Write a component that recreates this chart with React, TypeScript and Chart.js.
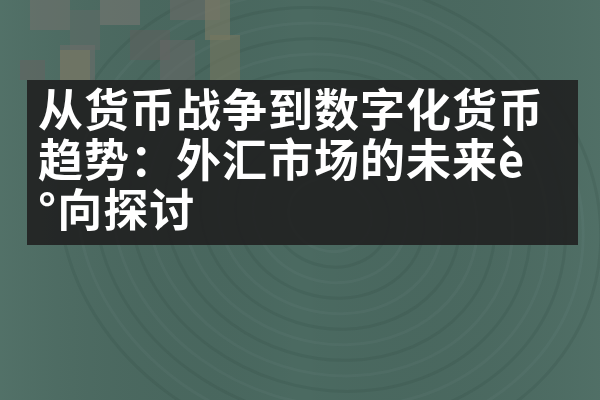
import { useEffect, useRef } from 'react';
import { Chart, registerables } from 'chart.js';

Chart.register(...registerables);

// headline as it wraps in the picture (the mojibake is in the original)
const titleLines = ['从货币战争到数字化货币', '趋势：外汇市场的未来è', '°向探讨'];
const categories: string[] = [];
const values: number[] = [];

// background texture + dark caption box, drawn under the title
const backdrop = {
  id: 'backdrop',
  beforeDraw(chart) {
    const { ctx, width, height } = chart;
    ctx.save();
    ctx.fillStyle = '#4b6a61';
    ctx.fillRect(0, 0, width, height);

    // lighter sides, darker middle
    const g = ctx.createLinearGradient(0, 0, width, 0);
    g.addColorStop(0, 'rgba(120,150,140,0.16)');
    g.addColorStop(0.5, 'rgba(0,0,0,0)');
    g.addColorStop(1, 'rgba(120,150,140,0.12)');
    ctx.fillStyle = g;
    ctx.fillRect(0, 0, width, height);

    // faint swirl rings
    for (let i = 0; i < 14; i++) {
      const r = 40 + i * 17;
      ctx.beginPath();
      ctx.ellipse(330, 215, r * 1.05, r * 0.9, 0.3, 0, Math.PI * 2);
      ctx.strokeStyle = i % 2 ? 'rgba(30,55,48,0.12)' : 'rgba(140,170,160,0.08)';
      ctx.lineWidth = 3;
      ctx.stroke();
    }

    // pixelated patch at top left
    const blocks = [
      [30, 0, 40, 30, '#6f716d'], [70, 10, 30, 40, '#5f6a66'], [100, 0, 40, 25, '#767672'],
      [60, 45, 35, 35, '#6b6c69'], [130, 30, 40, 30, '#5d605e'], [170, 0, 50, 20, '#6a6b68'],
      [205, 0, 25, 40, '#7d7c66'], [210, 35, 30, 45, '#77775f'], [60, 50, 30, 30, '#7a7a62'],
      [20, 60, 25, 20, '#626461'], [160, 40, 35, 40, '#666866'],
    ];
    ctx.globalAlpha = 0.6;
    for (const [x, y, w, h, c] of blocks) {
      ctx.fillStyle = c as string;
      ctx.fillRect(x as number, y as number, w as number, h as number);
    }
    ctx.globalAlpha = 1;

    // caption box
    ctx.fillStyle = 'rgba(32,32,32,0.9)';
    ctx.fillRect(27, 80, 551, 165);
    ctx.restore();
    // slightly wider glyph spacing for the headline
    ctx.letterSpacing = '1px';
  },
};

const App = () => {
  const chartRef = useRef(null);

  useEffect(() => {
    document.body.style.margin = '0';
    const ctx = chartRef.current.getContext('2d');
    let chartInstance = new Chart(ctx, {
      type: 'bar',
      data: {
        labels: categories,
        datasets: [{ data: values }],
      },
      plugins: [backdrop],
      options: {
        animation: false,
        responsive: false,
        devicePixelRatio: 1,
        layout: { padding: { left: 38, top: 0 } },
        scales: { x: { display: false }, y: { display: false } },
        plugins: {
          legend: { display: false },
          tooltip: { enabled: false },
          title: {
            display: true,
            align: 'start',
            text: titleLines,
            color: '#ffffff',
            font: { family: "'Noto Sans CJK SC', sans-serif", size: 45, weight: 'bold', lineHeight: 1.11 },
            padding: { top: 85, bottom: 0 },
          },
        },
      },
    });

    return () => {
      chartInstance.destroy();
    };
  }, []);

  return (
    <div style={{ width: 600, height: 400 }}>
      <canvas ref={chartRef} width={600} height={400} />
    </div>
  );
};

export default App;
